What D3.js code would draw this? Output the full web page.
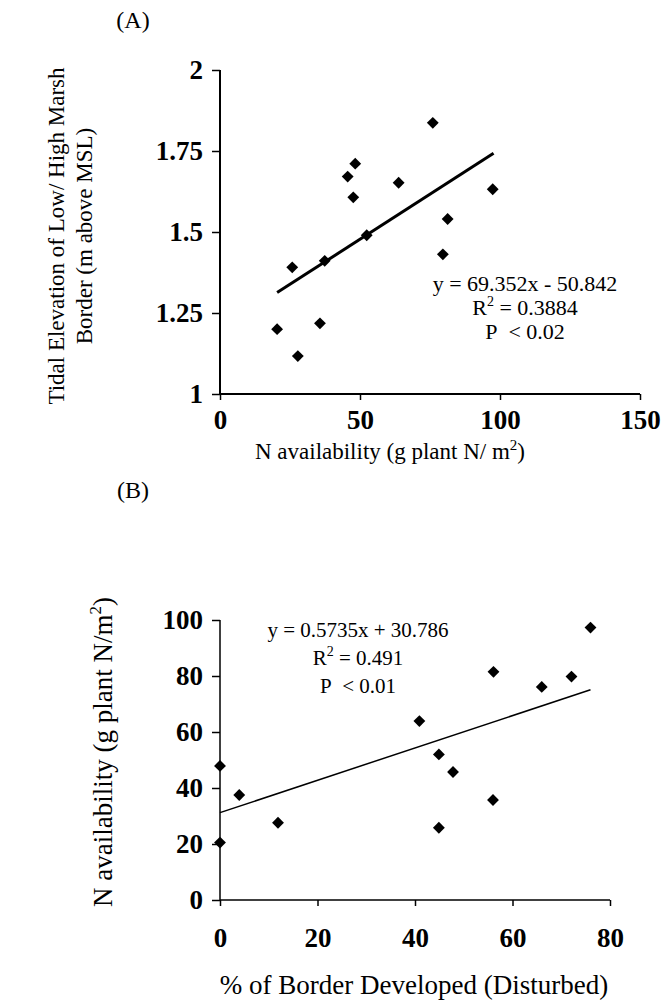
<!DOCTYPE html>
<html>
<head>
<meta charset="utf-8">
<script src="https://cdn.jsdelivr.net/npm/d3@7"></script>
<style>
  body { margin: 0; background: #fff; }
  svg text { font-family: "Liberation Serif", "Times New Roman", serif; fill: #000; }
  .tick text { font-weight: bold; font-size: 27px; }
  .titleA { font-size: 23px; }
  .titleB { font-size: 27px; }
  .lab { font-size: 24px; }
</style>
</head>
<body>
<div id="chart"></div>
<script>
// Panneau A : disponibilité en N vs élévation de la bordure
const nAvailA = [20.4, 25.8, 27.8, 35.7, 37.4, 45.6, 47.6, 48.3, 52.4, 63.8, 76.0, 79.6, 81.3, 97.4];
const elevA = [1.20, 1.391, 1.117, 1.218, 1.411, 1.671, 1.607, 1.711, 1.490, 1.652, 1.837, 1.431, 1.540, 1.632];
const trendAx = [20.4, 97.7];
const trendAy = [1.313, 1.743];
const ticksAx = [0, 50, 100, 150];
const ticksAy = [1, 1.25, 1.5, 1.75, 2];

// Panneau B : % de bordure développée vs disponibilité en N
const devB = [0, 0, 3.95, 11.9, 40.9, 44.9, 44.9, 47.8, 56.1, 56.0, 66.0, 72.1, 76.0];
const nAvailB = [47.9, 20.5, 37.5, 27.6, 63.9, 52.0, 25.8, 45.7, 81.5, 35.7, 76.1, 79.8, 97.3];
const trendBx = [0, 76];
const trendBy = [31.2, 75.1];
const ticksBx = [0, 20, 40, 60, 80];
const ticksBy = [0, 20, 40, 60, 80, 100];

const width = 664;
const height = 1004;

const svg = d3.select("#chart")
  .append("svg")
  .attr("width", width)
  .attr("height", height);

const diamond = d3.symbol().type(d3.symbolSquare).size(70);

function panel(cfg) {
  const x = d3.scaleLinear().domain(cfg.xDomain).range(cfg.xRange);
  const y = d3.scaleLinear().domain(cfg.yDomain).range(cfg.yRange);
  const g = svg.append("g");

  // Axes
  const ax = g.append("g")
    .attr("transform", `translate(0,${cfg.yRange[0]})`)
    .call(d3.axisBottom(x).tickValues(cfg.xTicks).tickSize(6).tickPadding(cfg.xPad).tickFormat(d3.format("d")));
  const ay = g.append("g")
    .attr("transform", `translate(${cfg.xRange[0]},0)`)
    .call(d3.axisLeft(y).tickValues(cfg.yTicks).tickSize(8).tickPadding(9).tickFormat(cfg.yFormat));
  [ax, ay].forEach(a => {
    a.select(".domain").attr("stroke-width", cfg.axisW);
    a.selectAll(".tick line").attr("stroke-width", 1.5);
    a.selectAll(".tick text").attr("fill", "#000");
  });
  ax.select(".domain").attr("d", `M${cfg.xRange[0]},0H${cfg.xRange[1]}`);
  ay.select(".domain").attr("d", `M0,${cfg.yRange[0]}V${cfg.yRange[1]}`);

  // Droite de régression
  g.append("line")
    .attr("x1", x(cfg.tx[0])).attr("y1", y(cfg.ty[0]))
    .attr("x2", x(cfg.tx[1])).attr("y2", y(cfg.ty[1]))
    .attr("stroke", "#000")
    .attr("stroke-width", cfg.lineW);

  // Points
  g.selectAll("path.pt")
    .data(cfg.xs.map((v, i) => [v, cfg.ys[i]]))
    .join("path")
    .attr("class", "pt")
    .attr("d", diamond)
    .attr("transform", d => `translate(${x(d[0])},${y(d[1])}) rotate(45)`)
    .attr("fill", "#000");

  // Équation
  const eq = g.append("text")
    .attr("font-size", cfg.eqSize)
    .attr("text-anchor", "middle");
  cfg.eq.forEach((line, i) => {
    const t = eq.append("tspan")
      .attr("x", cfg.eqX)
      .attr("y", cfg.eqY + i * cfg.eqGap);
    if (typeof line === "object") {
      t.text(line.a);
      t.append("tspan").attr("dy", -9).attr("font-size", 14).text("2");
      t.append("tspan").attr("dy", 9).text(line.b);
    } else {
      t.text(line);
    }
  });

  return { x, y, g };
}

// Panneau A
panel({
  xDomain: [0, 150], xRange: [220, 640],
  yDomain: [1, 2], yRange: [394, 70],
  xTicks: ticksAx, yTicks: ticksAy, xPad: 10,
  yFormat: d => d3.format("")(d),
  axisW: 2, lineW: 3,
  xs: nAvailA, ys: elevA, tx: trendAx, ty: trendAy,
  eq: ["y = 69.352x - 50.842", { a: "R", b: " = 0.3884" }, "P\u00a0 < 0.02"],
  eqX: 525, eqY: 291, eqGap: 24, eqSize: 22
});

// Panneau B
panel({
  xDomain: [0, 80], xRange: [220, 610],
  yDomain: [0, 100], yRange: [900, 620],
  xTicks: ticksBx, yTicks: ticksBy, xPad: 22,
  yFormat: d3.format("d"),
  axisW: 1.5, lineW: 1.5,
  xs: devB, ys: nAvailB, tx: trendBx, ty: trendBy,
  eq: ["y = 0.5735x + 30.786", { a: "R", b: " = 0.491" }, "P\u00a0 < 0.01"],
  eqX: 358, eqY: 637, eqGap: 28, eqSize: 21
});

// Titres
svg.append("text").attr("class", "lab").attr("x", 133).attr("y", 28)
  .attr("text-anchor", "middle").text("(A)");
svg.append("text").attr("class", "lab").attr("x", 133).attr("y", 498)
  .attr("text-anchor", "middle").text("(B)");

svg.append("text").attr("class", "titleA").attr("x", 390).attr("y", 459)
  .attr("text-anchor", "middle")
  .call(t => {
    t.append("tspan").text("N availability (g plant N/ m");
    t.append("tspan").attr("dy", -9).attr("font-size", 15).text("2");
    t.append("tspan").attr("dy", 9).text(")");
  });

svg.append("text").attr("class", "titleB").attr("x", 414).attr("y", 994)
  .attr("text-anchor", "middle").text("% of Border Developed (Disturbed)");

svg.append("text").attr("class", "titleA")
  .attr("transform", "translate(64,236) rotate(-90)")
  .attr("text-anchor", "middle")
  .call(t => {
    t.append("tspan").attr("x", 0).attr("y", 0).text("Tidal Elevation of Low/ High Marsh");
    t.append("tspan").attr("x", 0).attr("y", 28).text("Border (m above MSL)");
  });

svg.append("text").attr("class", "titleB")
  .attr("transform", "translate(112,752) rotate(-90)")
  .attr("text-anchor", "middle")
  .call(t => {
    t.append("tspan").text("N availability (g plant N/m");
    t.append("tspan").attr("dy", -11).attr("font-size", 17).text("2");
    t.append("tspan").attr("dy", 11).text(")");
  });
</script>
</body>
</html>
